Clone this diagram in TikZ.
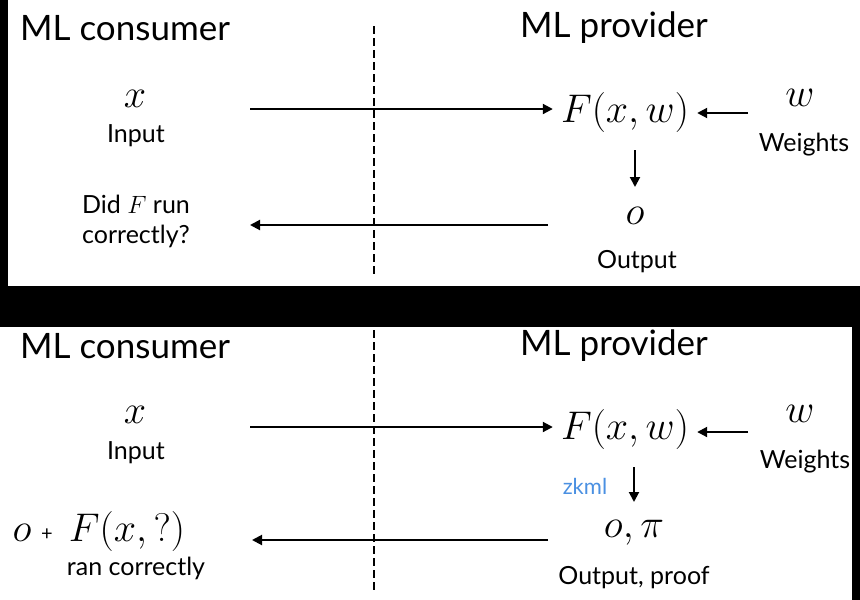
\RequirePackage{fix-cm}
\documentclass[tikz,border=0pt]{standalone}
\usepackage{fontspec}
\setmainfont{Lato}
\usetikzlibrary{arrows.meta}
\definecolor{zkblue}{RGB}{74,144,226}
\begin{document}
\begin{tikzpicture}[x=1pt,y=-1pt,
  lbl/.style={font=\fontsize{25}{29}\selectfont, inner sep=0pt},
  head/.style={font=\fontsize{35}{38}\selectfont, inner sep=0pt},
  mth/.style={font=\fontsize{40}{44}\selectfont, inner sep=0pt},
  fbox/.style={mth, inner xsep=8pt},
  arr/.style={line width=2pt, -{Triangle[length=10pt,width=10pt]}},
  divider/.style={line width=2pt, dash pattern=on 8pt off 4pt}]
\fill[black] (0,0) rectangle (860,600);
\fill[white] (8,0) rectangle (860,286);
\fill[white] (0,327) rectangle (852,600);
\useasboundingbox (0,0) rectangle (860,600);

% ---------- top panel ----------
\node[head] (c1) at (125,28) {ML consumer};
\node[head] (p1) at (614,28) {ML provider};
\coordinate (d1t) at (374,26);
\coordinate (d1b) at (374,276);
\draw[divider] (d1t) -- (d1b);
\node[mth] (x1) at (135,99) {$x$};
\node[lbl] (i1) at (136,136) {Input};
\node[fbox] (F1) at (625,112) {$F(x,w)$};
\node[mth] (w1) at (800,98) {$w$};
\node[lbl] (W1) at (804,145) {Weights};
\node[mth] (o1) at (635,216) {$o$};
\node[lbl] (O1) at (637,262) {Output};
\node[lbl, align=center] (q1) at (136,221) {Did $F$ run\\[1pt]correctly?};
\coordinate (a1s) at (250,109);
\draw[arr] (a1s) -- (a1s -| F1.west);
\coordinate (b1s) at (748,113);
\draw[arr] (b1s) -- (b1s -| F1.east);
\coordinate (v1s) at (635,150);
\coordinate (v1e) at (635,187);
\draw[arr] (v1s) -- (v1e);
\coordinate (r1s) at (548,225);
\coordinate (r1e) at (250,225);
\draw[arr] (r1s) -- (r1e);

% ---------- bottom panel ----------
\node[head] (c2) at (125,346) {ML consumer};
\node[head] (p2) at (614,346) {ML provider};
\coordinate (d2t) at (374,330);
\coordinate (d2b) at (374,592);
\draw[divider] (d2t) -- (d2b);
\node[mth] (x2) at (135,415) {$x$};
\node[lbl] (i2) at (136,453) {Input};
\node[fbox] (F2) at (625,429) {$F(x,w)$};
\node[mth] (w2) at (800,414) {$w$};
\node[lbl] (W2) at (805,462) {Weights};
\node[font=\fontsize{22}{24}\selectfont, text=zkblue, inner sep=0pt] (z2) at (585,486) {zkml};
\node[mth] (o2) at (634,533) {$o,\pi$};
\node[lbl] (O2) at (634,578) {Output, proof};
\node[mth] (o2c) at (22,533) {$o$};
\node[font=\fontsize{20}{22}\selectfont, inner sep=0pt] (plus) at (47,535) {+};
\node[mth] (Fq) at (127,531) {$F(x,?)$};
\node[lbl] (rc) at (136,568) {ran correctly};
\coordinate (a2s) at (250,427);
\draw[arr] (a2s) -- (a2s -| F2.west);
\coordinate (b2s) at (748,432);
\draw[arr] (b2s) -- (b2s -| F2.east);
\coordinate (v2s) at (634,467);
\coordinate (v2e) at (634,502);
\draw[arr] (v2s) -- (v2e);
\coordinate (r2s) at (548,540);
\coordinate (r2e) at (252,540);
\draw[arr] (r2s) -- (r2e);
\end{tikzpicture}
\end{document}
